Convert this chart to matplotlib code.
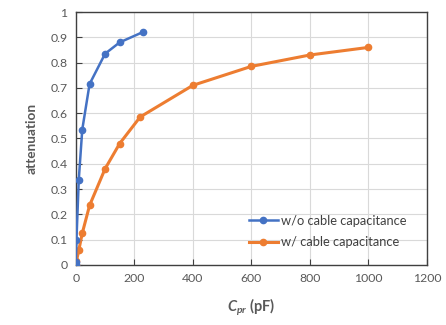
import matplotlib.pyplot as plt
from matplotlib.ticker import FuncFormatter

# Data
cpr_no_cable = [0, 0.22, 2.2, 10, 22, 47, 100, 150, 228]
att_no_cable = [0.0, 0.011, 0.099, 0.335, 0.535, 0.715, 0.835, 0.88, 0.92]

cpr_cable = [0, 2.2, 10, 22, 47, 100, 150, 220, 400, 600, 800, 1000]
att_cable = [0.0, 0.015, 0.057, 0.125, 0.235, 0.38, 0.48, 0.585, 0.71, 0.785, 0.83, 0.86]

labels = ['w/o cable capacitance', 'w/ cable capacitance']

plt.rcParams['font.family'] = ['Lato', 'DejaVu Sans']
plt.rcParams['mathtext.fontset'] = 'custom'
plt.rcParams['mathtext.it'] = 'Lato:style=italic:weight=bold'
plt.rcParams['mathtext.rm'] = 'Lato:weight=bold'

gray = '#595959'

fig = plt.figure(figsize=(4.46, 3.25), dpi=100)
ax = fig.add_axes([0.170, 0.185, 0.787, 0.778])

ax.plot(cpr_no_cable, att_no_cable, color='#4472C4', lw=1.8, marker='o',
        ms=4.5, label=labels[0], zorder=4)
ax.plot(cpr_cable, att_cable, color='#ED7D31', lw=2.2, marker='o',
        ms=4.5, label=labels[1], zorder=3)

ax.set_xlim(0, 1200)
ax.set_ylim(0, 1)
ax.set_xticks(range(0, 1201, 200))
ax.set_yticks([i / 10 for i in range(11)])
ax.yaxis.set_major_formatter(FuncFormatter(lambda v, p: '%g' % round(v, 1)))

ax.grid(True, color='#d9d9d9', lw=0.8)
ax.set_axisbelow(True)
for s in ax.spines.values():
    s.set_color('#404040')
    s.set_linewidth(1.0)

ax.tick_params(direction='in', length=4, width=0.8, color='#404040',
               labelsize=8.8, labelcolor=gray, pad=6)

ax.set_ylabel('attenuation', fontsize=9.8, fontweight='bold', color=gray, labelpad=9)
ax.set_xlabel(r'$C_{pr}$ (pF)', fontsize=10.5, fontweight='bold', color=gray, labelpad=9)

ax.legend(loc='lower right', bbox_to_anchor=(0.975, 0.02), frameon=False,
          fontsize=9.3, handlelength=2.3, handletextpad=0.2, labelspacing=0.75,
          labelcolor='#404040')

plt.savefig('out.png', dpi=100)
